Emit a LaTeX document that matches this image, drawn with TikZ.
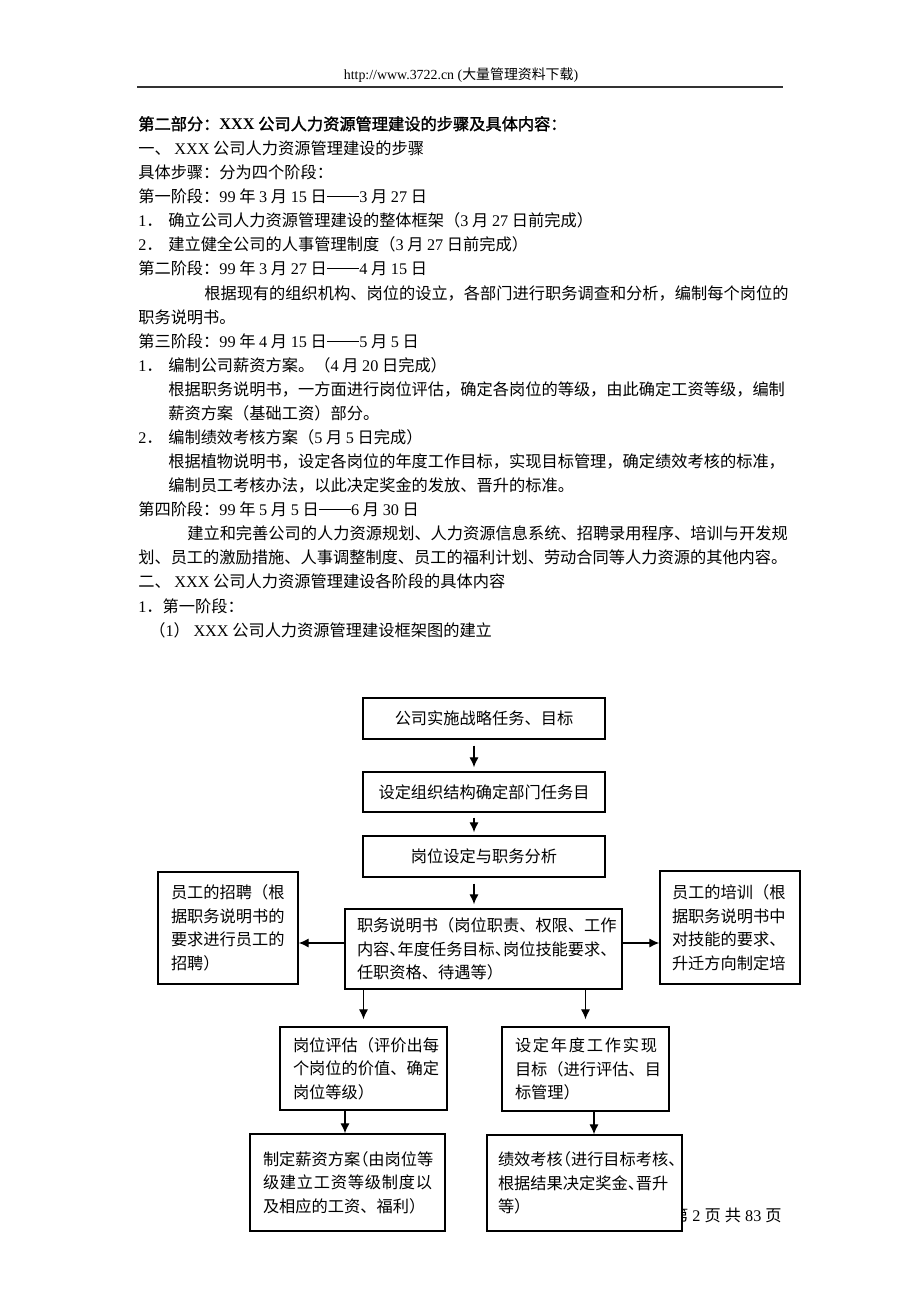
\documentclass[tikz,border=0pt]{standalone}
\usepackage{fontspec}
\setmainfont{Noto Sans CJK SC}[AutoFakeBold=1.6]
\newfontfamily\tnr{Liberation Serif}
\usetikzlibrary{arrows.meta}
\newdimen\px \px=0.64704pt
\newcommand\en[1]{{\tnr #1}}
\newcommand\hc[1]{\makebox[.5em][l]{#1}}
\newcommand\hl[1]{\makebox[.5em][r]{#1}}
\newcommand\dsh{\rule[0.34em]{2em}{0.05em}}
\begin{document}
\begin{tikzpicture}[x=0.64704pt,y=-0.64704pt,
    line/.style={anchor=base west, inner sep=0pt, font=\fontsize{10.5pt}{15.7pt}\selectfont},
    box/.style={draw, line width=0.9pt, fill=white, inner sep=0pt, align=left, font=\fontsize{10.5pt}{15.2pt}\selectfont},
    flow/.style={-{Latex[length=6.5pt,width=6pt]}, line width=0.9pt}]
       \useasboundingbox (0,0) rectangle (920,1302);
       % page header
       \node[anchor=base, inner sep=0pt, font=\fontsize{9pt}{11pt}\selectfont] (hdr) at (461,80) {\en{http://www.3722.cn (}大量管理资料下载\en{)}};
       \draw[line width=1.3pt, black!80] (137,87) -- (783,87);
       % text lines
       \node[line] (t0) at (138,130) {\bfseries 第二部分：\en{XXX} 公司人力资源管理建设的步骤及具体内容：};
       \node[line] (t1) at (138,154) {一、 \en{XXX} 公司人力资源管理建设的步骤};
       \node[line] (t2) at (138,178) {具体步骤：分为四个阶段：};
       \node[line] (t3) at (138,202) {第一阶段：\en{99} 年 \en{3} 月 \en{15} 日\dsh\en{3} 月 \en{27} 日};
       \node[line] (t4) at (138,226) {\makebox[30\px][l]{\en{1}．}确立公司人力资源管理建设的整体框架（\en{3} 月 \en{27} 日前完成）};
       \node[line] (t5) at (138,250) {\makebox[30\px][l]{\en{2}．}建立健全公司的人事管理制度（\en{3} 月 \en{27} 日前完成）};
       \node[line] (t6) at (138,274) {第二阶段：\en{99} 年 \en{3} 月 \en{27} 日\dsh\en{4} 月 \en{15} 日};
       \node[line] (t7) at (204,299) {根据现有的组织机构、岗位的设立，各部门进行职务调查和分析，编制每个岗位的};
       \node[line] (t8) at (138,323) {职务说明书。};
       \node[line] (t9) at (138,347) {第三阶段：\en{99} 年 \en{4} 月 \en{15} 日\dsh\en{5} 月 \en{5} 日};
       \node[line] (t10) at (138,371) {\makebox[30\px][l]{\en{1}．}编制公司薪资方案。（\en{4} 月 \en{20} 日完成）};
       \node[line] (t11) at (168,395) {根据职务说明书，一方面进行岗位评估，确定各岗位的等级，由此确定工资等级，编制};
       \node[line] (t12) at (168,419) {薪资方案（基础工资）部分。};
       \node[line] (t13) at (138,443) {\makebox[30\px][l]{\en{2}．}编制绩效考核方案（\en{5} 月 \en{5} 日完成）};
       \node[line] (t14) at (168,467) {根据植物说明书，设定各岗位的年度工作目标，实现目标管理，确定绩效考核的标准，};
       \node[line] (t15) at (168,491) {编制员工考核办法，以此决定奖金的发放、晋升的标准。};
       \node[line] (t16) at (138,515) {第四阶段：\en{99} 年 \en{5} 月 \en{5} 日\dsh\en{6} 月 \en{30} 日};
       \node[line] (t17) at (187,539) {建立和完善公司的人力资源规划、人力资源信息系统、招聘录用程序、培训与开发规};
       \node[line] (t18) at (138,563) {划、员工的激励措施、人事调整制度、员工的福利计划、劳动合同等人力资源的其他内容。};
       \node[line] (t19) at (138,587) {二、 \en{XXX} 公司人力资源管理建设各阶段的具体内容};
       \node[line] (t20) at (138,612) {\en{1}．第一阶段：};
       \node[line] (t21) at (149,636) {（\en{1}） \en{XXX} 公司人力资源管理建设框架图的建立};
       % page number (partly under the last box)
       \node[anchor=base east, inner sep=0pt, font=\fontsize{10.5pt}{12pt}\selectfont] (pg) at (782,1221) {第\en{ }\en{2}\en{ }页\en{ }共\en{ }\en{83}\en{ }页};
       % chart
       \node[box, align=center, minimum width=242*\px, minimum height=41*\px] (goal) at (484,718.5) {公司实施战略任务、目标};
       \node[box, align=center, minimum width=242*\px, minimum height=40*\px] (org) at (484,792) {设定组织结构确定部门任务目};
       \node[box, align=center, minimum width=242*\px, minimum height=41*\px] (post) at (484,856.5) {岗位设定与职务分析};
       \node[box, text width=253*\px, minimum width=277*\px, minimum height=80*\px] (duty) at (483.5,949) {职务说明书（岗位职责、权限、工作\\内容\hc{、}年度任务目标\hc{、}岗位技能要求、\\任职资格、待遇等）};
       \node[box, text width=114*\px, minimum width=140*\px, minimum height=112*\px] (recruit) at (228,928) {员工的招聘（根\\据职务说明书的\\要求进行员工的\\招聘）};
       \node[box, text width=116*\px, minimum width=140*\px, minimum height=113*\px] (train) at (730,927.5) {员工的培训（根\\据职务说明书中\\对技能的要求、\\升迁方向制定培};
       \node[box, text width=141*\px, minimum width=167*\px, minimum height=83*\px] (assess) at (363.5,1068.5) {岗位评估（评价出每\\个岗位的价值、确定\\岗位等级）};
       \node[box, text width=141*\px, minimum width=167*\px, minimum height=84*\px] (target) at (585.5,1069) {\makebox[142\px][s]{设\hfil 定\hfil 年\hfil 度\hfil 工\hfil 作\hfil 实\hfil 现}\\目标（进行评估、目\\标管理）};
       \node[box, text width=169*\px, minimum width=195*\px, minimum height=97*\px] (salary) at (347.5,1182.5) {制定薪资方案\hl{（}由岗位等\\\makebox[169\px][s]{级\hfil 建\hfil 立\hfil 工\hfil 资\hfil 等\hfil 级\hfil 制\hfil 度\hfil 以}\\及相应的工资、福利）};
       \node[box, text width=173*\px, minimum width=195*\px, minimum height=96*\px] (perf) at (584.5,1183) {绩效考核\hl{（}进行目标考核\hc{、}\\根据结果决定奖金\hc{、}晋升\\等）};
       % arrows
       \path ([xshift=-10*\px]goal.south) coordinate (c1);
       \path ([xshift=-10*\px]org.south) coordinate (c2);
       \path ([xshift=-10*\px]post.south) coordinate (c3);
       \draw[flow, shorten <=6*\px, shorten >=4*\px] (c1) -- (c1 |- org.north);
       \draw[flow, shorten <=5*\px, shorten >=3*\px] (c2) -- (c2 |- post.north);
       \draw[flow, shorten <=6*\px, shorten >=4*\px] (c3) -- (c3 |- duty.north);
       \path ([yshift=6*\px]duty.west) coordinate (dl);
       \path ([yshift=6*\px]duty.east) coordinate (dr);
       \draw[flow] (dl) -- (dl -| recruit.east);
       \draw[flow] (dr) -- (dr -| train.west);
       \draw[flow, shorten >=7*\px] (duty.south -| assess.north) -- (assess.north);
       \draw[flow, shorten >=7*\px] (duty.south -| target.north) -- (target.north);
       \path ([xshift=-18.5*\px]assess.south) coordinate (s1);
       \path ([xshift=8.5*\px]target.south) coordinate (s2);
       \draw[flow] (s1) -- (s1 |- salary.north);
       \draw[flow] (s2) -- (s2 |- perf.north);
\end{tikzpicture}
\end{document}
